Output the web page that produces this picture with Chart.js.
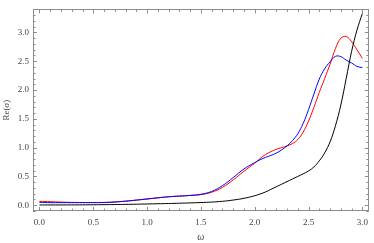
<!DOCTYPE html>
<html>
<head>
<meta charset="utf-8">
<script src="https://cdn.jsdelivr.net/npm/chart.js@4.4.1/dist/chart.umd.min.js"></script>
<style>
html,body{margin:0;padding:0;background:#fff;}
#wrap{width:374px;height:243px;position:relative;}
</style>
</head>
<body>
<div id="wrap"><canvas id="c"></canvas></div>
<script>
const omega = [0.0,0.1,0.2,0.3,0.4,0.5,0.6,0.7,0.8,0.9,1.0,1.1,1.2,1.3,1.4,1.5,1.6,1.7,1.8,1.9,
  2.0,2.05,2.1,2.15,2.2,2.25,2.3,2.35,2.4,2.45,2.5,2.55,2.6,2.65,2.7,2.75,2.8,2.85,2.9,2.95,3.0];
const redSeries = [0.068,0.062,0.055,0.05,0.048,0.048,0.05,0.058,0.072,0.09,0.11,0.13,0.148,0.16,0.17,0.185,0.225,0.31,0.44,0.59,
  0.73,0.81,0.88,0.93,0.97,1.0,1.03,1.07,1.14,1.27,1.46,1.7,1.96,2.2,2.45,2.72,2.9,2.93,2.84,2.70,2.55];
const blueSeries = [0.05,0.045,0.045,0.045,0.045,0.045,0.046,0.055,0.07,0.088,0.108,0.128,0.146,0.158,0.17,0.19,0.24,0.34,0.48,0.63,
  0.74,0.79,0.83,0.865,0.905,0.96,1.03,1.12,1.24,1.42,1.66,1.93,2.19,2.37,2.49,2.585,2.58,2.52,2.47,2.41,2.39];
const blackSeries = [0.005,0.005,0.005,0.006,0.007,0.008,0.01,0.012,0.015,0.018,0.022,0.026,0.03,0.035,0.04,0.047,0.055,0.068,0.09,0.12,
  0.165,0.195,0.23,0.275,0.32,0.365,0.41,0.455,0.5,0.545,0.595,0.665,0.77,0.91,1.1,1.38,1.74,2.2,2.67,3.04,3.33];
const xTickValues = [0,0.5,1,1.5,2,2.5,3];
const yTickValues = [0,0.5,1,1.5,2,2.5,3];

const toPts = (ys) => omega.map((x,i)=>({x:x, y:ys[i]}));
const serif = "'Liberation Serif','DejaVu Serif',serif";

const frameTicks = {
  id:'frameTicks',
  afterDatasetsDraw(chart){
    const {ctx, chartArea:a, scales:{x,y}} = chart;
    ctx.save();
    ctx.strokeStyle = '#8c8c8c';
    ctx.lineWidth = 1;
    ctx.beginPath();
    for (let i=-1;i<=31;i++){
      const v=i/10; if (v<x.min||v>x.max) continue;
      const px = Math.round(x.getPixelForValue(v))+0.5;
      const L = (i%5===0)?4:2.5;
      ctx.moveTo(px,a.bottom); ctx.lineTo(px,a.bottom-L);
      ctx.moveTo(px,a.top); ctx.lineTo(px,a.top+L);
    }
    for (let i=-2;i<=35;i++){
      const v=i/10; if (v<y.min||v>y.max) continue;
      const py = Math.round(y.getPixelForValue(v))+0.5;
      const L = (i%5===0)?4:2.5;
      ctx.moveTo(a.left,py); ctx.lineTo(a.left+L,py);
      ctx.moveTo(a.right,py); ctx.lineTo(a.right-L,py);
    }
    ctx.stroke();
    ctx.strokeRect(Math.round(a.left)+0.5, Math.round(a.top)+0.5, Math.round(a.right-a.left)-1, Math.round(a.bottom-a.top)-1);
    ctx.restore();
  }
};

new Chart(document.getElementById('c'), {
  type:'line',
  data:{datasets:[
    {data:toPts(blackSeries), borderColor:'#000000', borderWidth:1, pointRadius:0, tension:0.4},
    {data:toPts(blueSeries), borderColor:'#0000ff', borderWidth:1, pointRadius:0, tension:0.4},
    {data:toPts(redSeries), borderColor:'#ff0000', borderWidth:1, pointRadius:0, tension:0.4}
  ]},
  options:{
    responsive:true, maintainAspectRatio:false, animation:false,
    layout:{padding:{top:1,right:1.5,left:0,bottom:0}},
    plugins:{legend:{display:false}, tooltip:{enabled:false}},
    scales:{
      x:{type:'linear', min:-0.06, max:3.06,
        grid:{display:false, drawTicks:false}, border:{display:false},
        afterBuildTicks:(s)=>{ s.ticks = xTickValues.map(v=>({value:v})); },
        afterFit:(s)=>{ s.height = 32; },
        ticks:{padding:6, color:'#444', font:{family:serif,size:9}, callback:(v)=>Number(v).toFixed(1), maxRotation:0, autoSkip:false},
        title:{display:true, text:'ω', color:'#444', font:{family:serif,size:10,style:'italic'}, padding:{top:0,bottom:0}}
      },
      y:{type:'linear', min:-0.1, max:3.4,
        grid:{display:false, drawTicks:false}, border:{display:false},
        afterBuildTicks:(s)=>{ s.ticks = yTickValues.map(v=>({value:v})); },
        afterFit:(s)=>{ s.width = 33; },
        ticks:{padding:4, color:'#444', font:{family:serif,size:9}, callback:(v)=>Number(v).toFixed(1), autoSkip:false},
        title:{display:true, text:'Re(σ)', color:'#444', font:{family:serif,size:9}, padding:{top:1,bottom:0}}
      }
    }
  },
  plugins:[frameTicks]
});
</script>
</body>
</html>
